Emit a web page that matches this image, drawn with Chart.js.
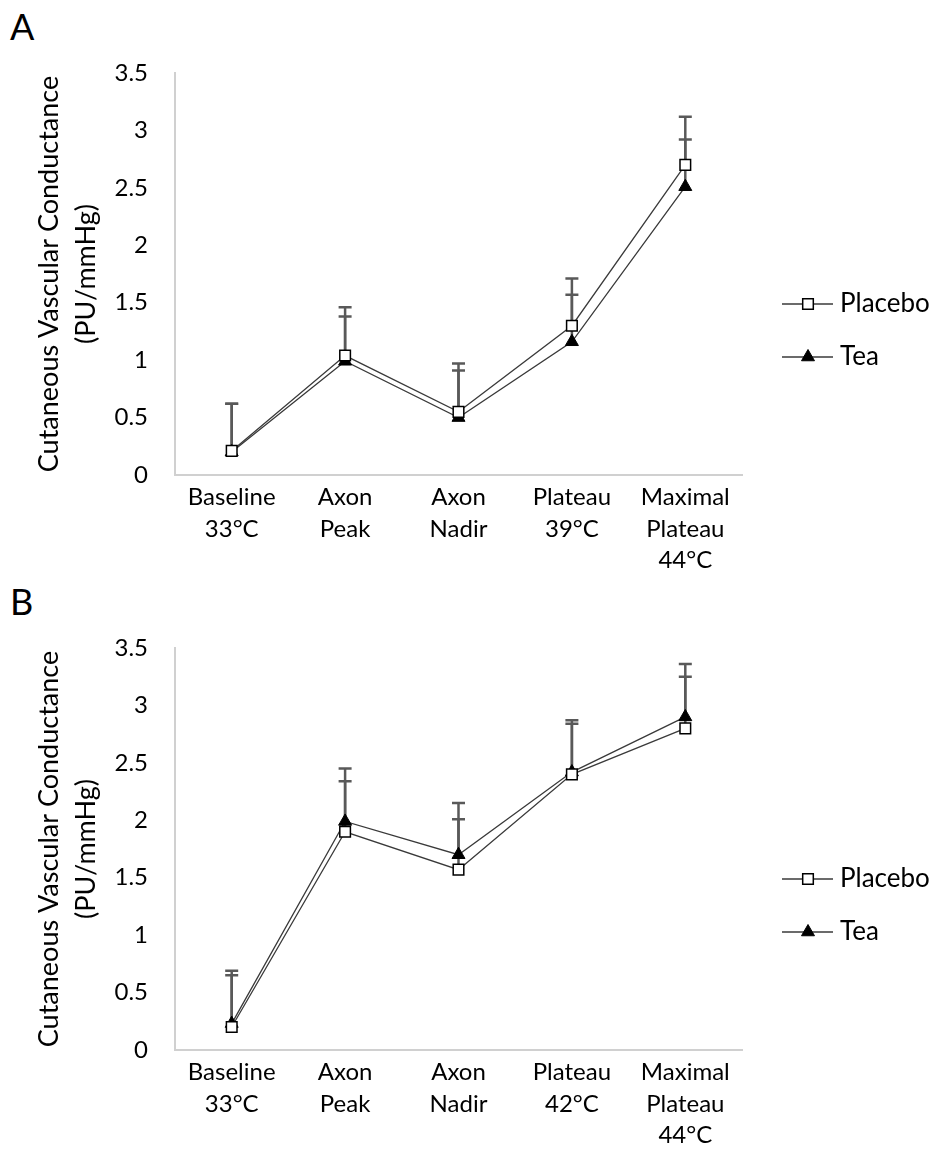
<!DOCTYPE html>
<html>
<head>
<meta charset="utf-8">
<script src="https://cdn.jsdelivr.net/npm/chart.js@4.4.0/dist/chart.umd.min.js"></script>
<style>
  body { margin: 0; background: #fff; width: 938px; height: 1173px; position: relative; overflow: hidden; }
  .panel { position: absolute; left: 0; }
  .letter { position: absolute; left: 10px; font-family: Lato, sans-serif; font-size: 36px; color: #000; line-height: 1; }
</style>
</head>
<body>
<div class="letter" style="top:8px;">A</div>
<div class="letter" style="top:583px;">B</div>
<canvas id="chartA" class="panel" style="top:0px;" width="938" height="575"></canvas>
<canvas id="chartB" class="panel" style="top:575px;" width="938" height="598"></canvas>
<script>
// Categories (x tick labels, multi-line)
const categoriesA = [["Baseline", "33°C"], ["Axon", "Peak"], ["Axon", "Nadir"], ["Plateau", "39°C"], ["Maximal", "Plateau", "44°C"]];
const categoriesB = [["Baseline", "33°C"], ["Axon", "Peak"], ["Axon", "Nadir"], ["Plateau", "42°C"], ["Maximal", "Plateau", "44°C"]];

// Panel A values (PU/mmHg)
const placeboA = [0.21, 1.04, 0.55, 1.30, 2.70];
const teaA = [0.20, 0.99, 0.50, 1.16, 2.51];
// upward error bars
const placeboErrA = [0.41, 0.42, 0.42, 0.41, 0.42];
const teaErrA = [0.42, 0.39, 0.41, 0.41, 0.41];

// Panel B values
const placeboB = [0.20, 1.90, 1.57, 2.40, 2.80];
const teaB = [0.23, 1.99, 1.70, 2.42, 2.90];
const placeboErrB = [0.45, 0.44, 0.44, 0.44, 0.45];
const teaErrB = [0.46, 0.46, 0.45, 0.45, 0.46];

const yTitle = ["Cutaneous Vascular Conductance", "(PU/mmHg)"];
const seriesNames = ["Placebo", "Tea"];

const FONT = "Lato, 'Open Sans', sans-serif";

// draws the upward error bars behind the markers
const errorBars = {
    id: "errorBars",
    beforeDatasetsDraw(chart) {
        const ctx = chart.ctx;
        const yScale = chart.scales.y;
        ctx.save();
        ctx.strokeStyle = "#595959";
        ctx.lineWidth = 2.5;
        chart.data.datasets.forEach((ds, i) => {
            const meta = chart.getDatasetMeta(i);
            meta.data.forEach((pt, j) => {
                const top = yScale.getPixelForValue(ds.data[j] + ds.errors[j]);
                ctx.beginPath();
                ctx.moveTo(pt.x, pt.y);
                ctx.lineTo(pt.x, top);
                ctx.moveTo(pt.x - 6.5, top);
                ctx.lineTo(pt.x + 6.5, top);
                ctx.stroke();
            });
        });
        ctx.restore();
    }
};

// Excel-style legend: short line with the marker in the middle
const sideLegend = {
    id: "sideLegend",
    afterDraw(chart) {
        const ctx = chart.ctx;
        const x0 = chart.chartArea.right + 40;
        const rows = [304, 357];
        ctx.save();
        chart.data.datasets.forEach((ds, i) => {
            const y = rows[i];
            const cx = x0 + 26;
            ctx.strokeStyle = ds.borderColor;
            ctx.lineWidth = 1.5;
            ctx.beginPath();
            ctx.moveTo(x0, y);
            ctx.lineTo(x0 + 51, y);
            ctx.stroke();
            ctx.fillStyle = ds.pointBackgroundColor;
            ctx.strokeStyle = ds.pointBorderColor;
            ctx.lineWidth = ds.pointBorderWidth;
            ctx.beginPath();
            if (ds.pointStyle === "rect") {
                const s = ds.pointRadius * Math.SQRT1_2;
                ctx.rect(cx - s, y - s, 2 * s, 2 * s);
            } else {
                const r = ds.pointRadius;
                ctx.moveTo(cx, y - r);
                ctx.lineTo(cx + r * Math.sqrt(3) / 2, y + r / 2);
                ctx.lineTo(cx - r * Math.sqrt(3) / 2, y + r / 2);
                ctx.closePath();
            }
            ctx.fill();
            ctx.stroke();
            ctx.fillStyle = "#000";
            ctx.font = "26px " + FONT;
            ctx.textBaseline = "middle";
            ctx.fillText(ds.label, x0 + 58, y);
        });
        ctx.restore();
    }
};

function makeChart(id, labels, placebo, tea, placeboErr, teaErr, padBottom) {
    const ctx = document.getElementById(id).getContext("2d");
    return new Chart(ctx, {
        type: "line",
        data: {
            labels: labels,
            datasets: [
                {
                    label: seriesNames[0],
                    data: placebo,
                    errors: placeboErr,
                    borderColor: "#3a3a3a",
                    borderWidth: 1.3,
                    pointStyle: "rect",
                    pointRadius: 7.5,
                    pointBorderWidth: 1.5,
                    pointBackgroundColor: "#fff",
                    pointBorderColor: "#000",
                    tension: 0
                },
                {
                    label: seriesNames[1],
                    data: tea,
                    errors: teaErr,
                    borderColor: "#3a3a3a",
                    borderWidth: 1.3,
                    pointStyle: "triangle",
                    pointRadius: 7.5,
                    pointBorderWidth: 1,
                    pointBackgroundColor: "#000",
                    pointBorderColor: "#000",
                    tension: 0
                }
            ]
        },
        options: {
            responsive: false,
            animation: false,
            layout: { padding: { top: 73, right: 196, bottom: padBottom, left: 0 } },
            plugins: { legend: { display: false }, tooltip: { enabled: false } },
            scales: {
                x: {
                    offset: true,
                    grid: { display: false, drawTicks: false },
                    border: { color: "#d0d0d0", width: 2 },
                    ticks: { color: "#000", font: { family: FONT, size: 24, lineHeight: 1.3 }, padding: 7, maxRotation: 0, autoSkip: false },
                    afterFit: s => { s.height = 100; }
                },
                y: {
                    min: 0,
                    max: 3.5,
                    grid: { display: false, drawTicks: false },
                    border: { color: "#d0d0d0", width: 2 },
                    ticks: { stepSize: 0.5, color: "#000", font: { family: FONT, size: 24 }, padding: 27, callback: v => String(v) },
                    title: { display: true, text: yTitle, color: "#000", font: { family: FONT, size: 27, lineHeight: 1.37 }, padding: { top: 31, bottom: 0 } },
                    afterFit: s => { s.width = 175; }
                }
            }
        },
        plugins: [errorBars, sideLegend]
    });
}

makeChart("chartA", categoriesA, placeboA, teaA, placeboErrA, teaErrA, 0);
makeChart("chartB", categoriesB, placeboB, teaB, placeboErrB, teaErrB, 23);
</script>
</body>
</html>
